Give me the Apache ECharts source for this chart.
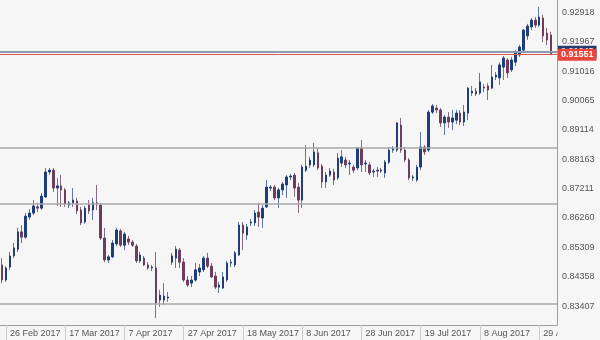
<!DOCTYPE html>
<html><head><meta charset="utf-8">
<script src="https://cdn.jsdelivr.net/npm/echarts@6/dist/echarts.min.js"></script>
<style>html,body{margin:0;padding:0;background:#f6f6f6}#c{width:600px;height:340px}</style>
</head><body><div id="c"></div>
<script>
// daily candles (category labels)
const dates = ('24 Feb,26 Feb,27 Feb,28 Feb,1 Mar,2 Mar,3 Mar,6 Mar,7 Mar,8 Mar,9 Mar,10 Mar,13 Mar,14 Mar,15 Mar,16 Mar,17 Mar,' +
 '20 Mar,21 Mar,22 Mar,23 Mar,24 Mar,27 Mar,28 Mar,29 Mar,30 Mar,31 Mar,3 Apr,4 Apr,5 Apr,6 Apr,7 Apr,' +
 '10 Apr,11 Apr,12 Apr,13 Apr,14 Apr,17 Apr,18 Apr,19 Apr,20 Apr,21 Apr,23 Apr,24 Apr,25 Apr,26 Apr,27 Apr,' +
 '28 Apr,1 May,2 May,3 May,4 May,5 May,8 May,9 May,10 May,11 May,12 May,15 May,16 May,17 May,18 May,' +
 '19 May,22 May,23 May,24 May,25 May,26 May,29 May,30 May,31 May,1 Jun,2 Jun,5 Jun,6 Jun,7 Jun,8 Jun,' +
 '9 Jun,12 Jun,13 Jun,14 Jun,15 Jun,16 Jun,19 Jun,20 Jun,21 Jun,22 Jun,23 Jun,25 Jun,26 Jun,27 Jun,28 Jun,' +
 '29 Jun,30 Jun,3 Jul,4 Jul,5 Jul,6 Jul,7 Jul,10 Jul,11 Jul,12 Jul,13 Jul,14 Jul,17 Jul,18 Jul,19 Jul,' +
 '20 Jul,21 Jul,24 Jul,25 Jul,26 Jul,27 Jul,28 Jul,31 Jul,1 Aug,2 Aug,3 Aug,4 Aug,6 Aug,7 Aug,8 Aug,' +
 '9 Aug,10 Aug,11 Aug,14 Aug,15 Aug,16 Aug,17 Aug,18 Aug,21 Aug,22 Aug,23 Aug,24 Aug,25 Aug,28 Aug,29 Aug,' +
 '30 Aug,31 Aug,1 Sep,4 Sep').split(',').map(d => d + ' 2017');

const opens = [
 0.8474,0.8425,0.8467,0.8503,0.8525,0.8581,0.8564,0.8629,0.8642,0.8662,
 0.8658,0.8694,0.8775,0.8781,0.8723,0.8730,0.8717,0.8668,0.8675,0.8681,
 0.8652,0.8613,0.8668,0.8652,0.8675,0.8668,0.8561,0.8490,0.8500,0.8542,
 0.8584,0.8538,0.8558,0.8548,0.8535,0.8487,0.8496,0.8474,0.8464,0.8464,
 0.8360,0.8360,0.8367,0.8483,0.8496,0.8522,0.8483,0.8425,0.8415,0.8425,
 0.8451,0.8458,0.8496,0.8470,0.8438,0.8402,0.8399,0.8425,0.8480,0.8474,
 0.8506,0.8603,0.8571,0.8610,0.8610,0.8645,0.8626,0.8662,0.8723,0.8726,
 0.8691,0.8717,0.8733,0.8759,0.8765,0.8726,0.8684,0.8781,0.8798,0.8798,
 0.8837,0.8794,0.8743,0.8765,0.8775,0.8756,0.8804,0.8814,0.8801,0.8791,
 0.8788,0.8853,0.8801,0.8798,0.8775,0.8781,0.8778,0.8772,0.8807,0.8846,
 0.8846,0.8927,0.8846,0.8814,0.8756,0.8749,0.8791,0.8856,0.8846,0.8969,
 0.8982,0.8976,0.8934,0.8953,0.8937,0.8943,0.8966,0.8937,0.8966,0.9031,
 0.9037,0.9031,0.9050,0.9054,0.9047,0.9083,0.9080,0.9115,0.9138,0.9106,
 0.9131,0.9154,0.9170,0.9216,0.9245,0.9267,0.9251,0.9274,0.9225,0.9219];
const highs = [
 0.8496,0.8470,0.8516,0.8545,0.8594,0.8603,0.8642,0.8655,0.8684,0.8675,
 0.8707,0.8788,0.8788,0.8788,0.8756,0.8765,0.8723,0.8681,0.8723,0.8691,
 0.8662,0.8665,0.8684,0.8691,0.8733,0.8675,0.8594,0.8506,0.8555,0.8594,
 0.8590,0.8581,0.8568,0.8555,0.8542,0.8516,0.8503,0.8483,0.8474,0.8516,
 0.8393,0.8415,0.8386,0.8513,0.8535,0.8529,0.8496,0.8438,0.8438,0.8480,
 0.8477,0.8503,0.8513,0.8480,0.8451,0.8419,0.8451,0.8487,0.8493,0.8519,
 0.8613,0.8613,0.8607,0.8623,0.8652,0.8675,0.8668,0.8749,0.8733,0.8733,
 0.8723,0.8743,0.8765,0.8769,0.8772,0.8739,0.8798,0.8862,0.8824,0.8869,
 0.8853,0.8801,0.8775,0.8788,0.8785,0.8837,0.8846,0.8824,0.8814,0.8798,
 0.8856,0.8879,0.8814,0.8807,0.8785,0.8791,0.8788,0.8814,0.8856,0.8859,
 0.8937,0.8950,0.8856,0.8820,0.8765,0.8798,0.8905,0.8862,0.8976,0.8995,
 0.8992,0.8982,0.8960,0.8969,0.8976,0.8976,0.8976,0.8992,0.9050,0.9054,
 0.9047,0.9096,0.9060,0.9063,0.9122,0.9099,0.9131,0.9151,0.9144,0.9148,
 0.9170,0.9186,0.9238,0.9255,0.9274,0.9277,0.9310,0.9284,0.9242,0.9229];
const lows = [
 0.8415,0.8419,0.8458,0.8496,0.8516,0.8545,0.8558,0.8620,0.8636,0.8645,
 0.8652,0.8691,0.8765,0.8710,0.8665,0.8662,0.8662,0.8658,0.8662,0.8639,
 0.8603,0.8607,0.8639,0.8620,0.8652,0.8555,0.8483,0.8480,0.8496,0.8535,
 0.8532,0.8522,0.8538,0.8532,0.8480,0.8480,0.8470,0.8458,0.8454,0.8302,
 0.8338,0.8344,0.8354,0.8474,0.8464,0.8464,0.8419,0.8402,0.8402,0.8419,
 0.8438,0.8451,0.8464,0.8432,0.8396,0.8383,0.8396,0.8419,0.8467,0.8467,
 0.8503,0.8522,0.8555,0.8600,0.8600,0.8597,0.8594,0.8658,0.8713,0.8684,
 0.8658,0.8700,0.8691,0.8749,0.8694,0.8642,0.8658,0.8775,0.8788,0.8791,
 0.8781,0.8723,0.8723,0.8759,0.8733,0.8749,0.8791,0.8788,0.8765,0.8772,
 0.8781,0.8775,0.8775,0.8765,0.8759,0.8759,0.8772,0.8756,0.8801,0.8837,
 0.8840,0.8837,0.8807,0.8749,0.8746,0.8743,0.8781,0.8830,0.8840,0.8963,
 0.8966,0.8921,0.8895,0.8918,0.8911,0.8930,0.8927,0.8924,0.8943,0.9021,
 0.9021,0.9025,0.9034,0.9008,0.9044,0.9073,0.9057,0.9073,0.9080,0.9099,
 0.9118,0.9148,0.9164,0.9203,0.9235,0.9242,0.9245,0.9196,0.9186,0.9154];
const closes = [
 0.8425,0.8464,0.8503,0.8529,0.8581,0.8564,0.8632,0.8642,0.8665,0.8658,
 0.8697,0.8775,0.8781,0.8723,0.8730,0.8717,0.8671,0.8675,0.8684,0.8649,
 0.8610,0.8658,0.8649,0.8675,0.8671,0.8561,0.8490,0.8500,0.8545,0.8587,
 0.8538,0.8574,0.8548,0.8538,0.8487,0.8506,0.8474,0.8464,0.8467,0.8351,
 0.8376,0.8373,0.8370,0.8503,0.8525,0.8483,0.8425,0.8409,0.8425,0.8458,
 0.8464,0.8496,0.8470,0.8435,0.8402,0.8409,0.8435,0.8480,0.8483,0.8513,
 0.8603,0.8577,0.8597,0.8613,0.8642,0.8629,0.8658,0.8726,0.8726,0.8691,
 0.8717,0.8736,0.8759,0.8762,0.8723,0.8684,0.8791,0.8794,0.8814,0.8840,
 0.8788,0.8743,0.8765,0.8778,0.8749,0.8820,0.8824,0.8798,0.8804,0.8781,
 0.8853,0.8798,0.8804,0.8772,0.8778,0.8778,0.8781,0.8807,0.8846,0.8850,
 0.8934,0.8846,0.8814,0.8756,0.8759,0.8791,0.8856,0.8840,0.8969,0.8989,
 0.8976,0.8934,0.8953,0.8937,0.8950,0.8966,0.8937,0.8969,0.9047,0.9037,
 0.9028,0.9067,0.9047,0.9041,0.9083,0.9089,0.9122,0.9144,0.9096,0.9138,
 0.9161,0.9180,0.9235,0.9248,0.9267,0.9251,0.9277,0.9216,0.9203,0.91551];

const priceTicks = [0.83407,0.84358,0.85309,0.86260,0.87211,0.88163,0.89114,0.90065,0.91016,0.91967,0.92918];
const levels = [0.88537,0.86736,0.83496];
const askPrice = 0.91648;
const lastPrice = 0.91551;
const yMin = 0.82793, yMax = 0.93323;
const labelStep = 15, labelOffset = 1;

const bullBody = '#1e3d7a', bearBody = '#6e3c5c';
const bullWick = '#5f78a6', bearWick = '#8a6a80';

const wickData = opens.map((o, i) => [o, closes[i], lows[i], highs[i]]);
const bodyData = opens.map((o, i) => [o, closes[i], Math.min(o, closes[i]), Math.max(o, closes[i])]);
const showIdx = (idx) => idx % labelStep === labelOffset;
const font = 'Liberation Sans, Arial, sans-serif';

const chart = echarts.init(document.getElementById('c'));
chart.setOption({
  animation: false,
  backgroundColor: '#f6f6f6',
  grid: { left: 0, top: 0, width: 557, height: 325, outerBoundsMode: 'none', containLabel: false },
  xAxis: {
    type: 'category', data: dates, boundaryGap: true,
    axisLine: { show: true, lineStyle: { color: '#9c9c9c', width: 1 } },
    axisTick: { show: true, alignWithLabel: true, interval: showIdx, length: 15, lineStyle: { color: '#cdcdcd' } },
    axisLabel: { interval: showIdx, align: 'left', padding: [0, 0, 0, 4], margin: 4, fontSize: 9,
      color: '#555', fontFamily: font },
    splitLine: { show: false }
  },
  yAxis: {
    type: 'value', position: 'right', min: yMin, max: yMax,
    axisLine: { show: true, lineStyle: { color: '#9c9c9c', width: 1 } },
    axisTick: { show: false }, splitLine: { show: false },
    axisLabel: { customValues: priceTicks, formatter: v => v.toFixed(5), fontSize: 9, margin: 5,
      color: '#555', fontFamily: font }
  },
  series: [
    {
      type: 'line', data: [], z: 1, silent: true,
      markLine: {
        symbol: 'none', silent: true, animation: false, precision: 5,
        data: [
          ...levels.map(v => ({ yAxis: v, lineStyle: { color: '#a9a9a9', width: 1.6, type: 'solid' }, label: { show: false } })),
          { yAxis: askPrice, lineStyle: { color: '#8c9bb4', width: 2, type: 'solid' },
            label: { show: true, position: 'end', distance: 1, formatter: askPrice.toFixed(5), color: '#fff', backgroundColor: '#243c6e',
              fontSize: 9, fontWeight: 'bold', padding: [2, 3, 1, 3], fontFamily: font } },
          { yAxis: lastPrice, lineStyle: { color: '#e05a55', width: 1, type: 'solid' },
            label: { show: true, position: 'end', distance: 1, formatter: lastPrice.toFixed(5), color: '#fff', backgroundColor: '#e8453c',
              fontSize: 9, fontWeight: 'bold', padding: [2, 3, 1, 3], fontFamily: font } }
        ]
      }
    },
    {
      type: 'candlestick', data: wickData, barWidth: 1, z: 2,
      itemStyle: { color: bullWick, color0: bearWick, borderColor: bullWick, borderColor0: bearWick, borderWidth: 1 }
    },
    {
      type: 'candlestick', data: bodyData, barWidth: 2, z: 3,
      itemStyle: { color: bullBody, color0: bearBody, borderColor: bullBody, borderColor0: bearBody, borderWidth: 1 }
    }
  ],
  graphic: [
    { type: 'rect', z: 100, shape: { x: 557.5, y: 326, width: 43, height: 14 }, style: { fill: '#f6f6f6' } }
  ]
});
</script></body></html>
